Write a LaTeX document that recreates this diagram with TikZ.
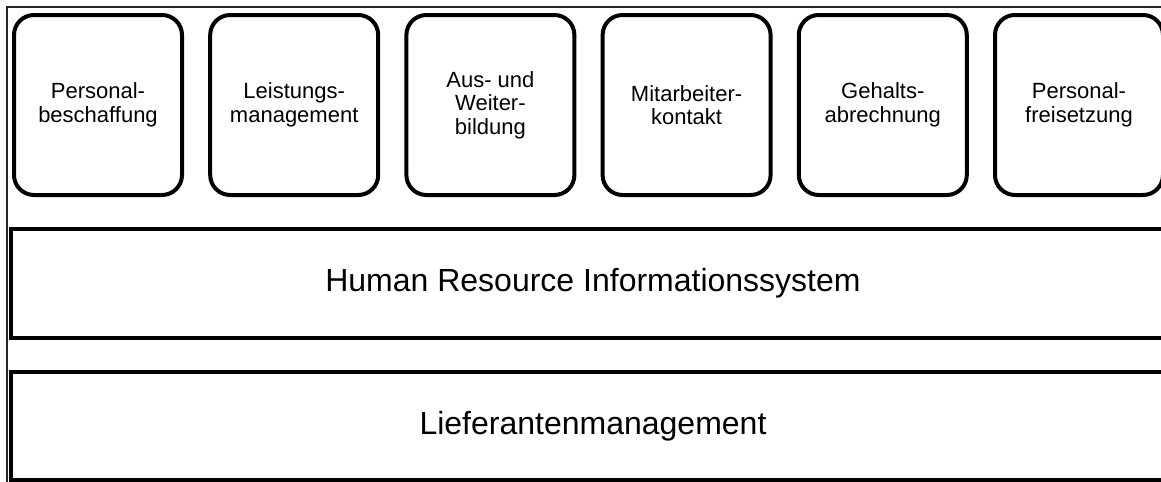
\documentclass[tikz,border=0pt]{standalone}
\usepackage{fontspec}
\setmainfont{Liberation Sans}
\begin{document}
\begin{tikzpicture}[x=0.75pt,y=-0.75pt,
  tile/.style={draw=black, line width=3pt, rounded corners=15pt, fill=white,
    minimum width=126pt, minimum height=135pt, inner sep=0pt, align=center,
    font=\fontsize{16.5pt}{17.6pt}\selectfont},
  layer/.style={draw=black, line width=3pt, fill=white, inner sep=0pt,
    align=center, font=\fontsize{24pt}{26pt}\selectfont}]
  \useasboundingbox (0,0) rectangle (1161,482);
  \clip (0,0) rectangle (1161,482);
  \fill[white] (0,0) rectangle (1161,482);
  % thin outer frame
  \draw[line width=1.1pt, black!85] (7,7) rectangle (1175,495);
  % process tiles
  \node[tile] (t1) at (98,105)     {Personal-\\beschaffung};
  \node[tile] (t2) at (294.2,105)  {Leistungs-\\management};
  \node[tile] (t3) at (490.4,105)  {Aus- und\\Weiter-\\bildung};
  \node[tile] (t4) at (686.6,105)  {Mitarbeiter-\\kontakt};
  \node[tile] (t5) at (882.8,105)  {Gehalts-\\abrechnung};
  \node[tile] (t6) at (1079,105)   {Personal-\\freisetzung};
  % system layers
  \node[layer, minimum width=873pt, minimum height=81.75pt] (hr) at (593,283)
    {Human Resource Informationssystem};
  \node[layer, minimum width=873pt, minimum height=80.5pt] (lm) at (593,426)
    {Lieferantenmanagement};
\end{tikzpicture}
\end{document}
